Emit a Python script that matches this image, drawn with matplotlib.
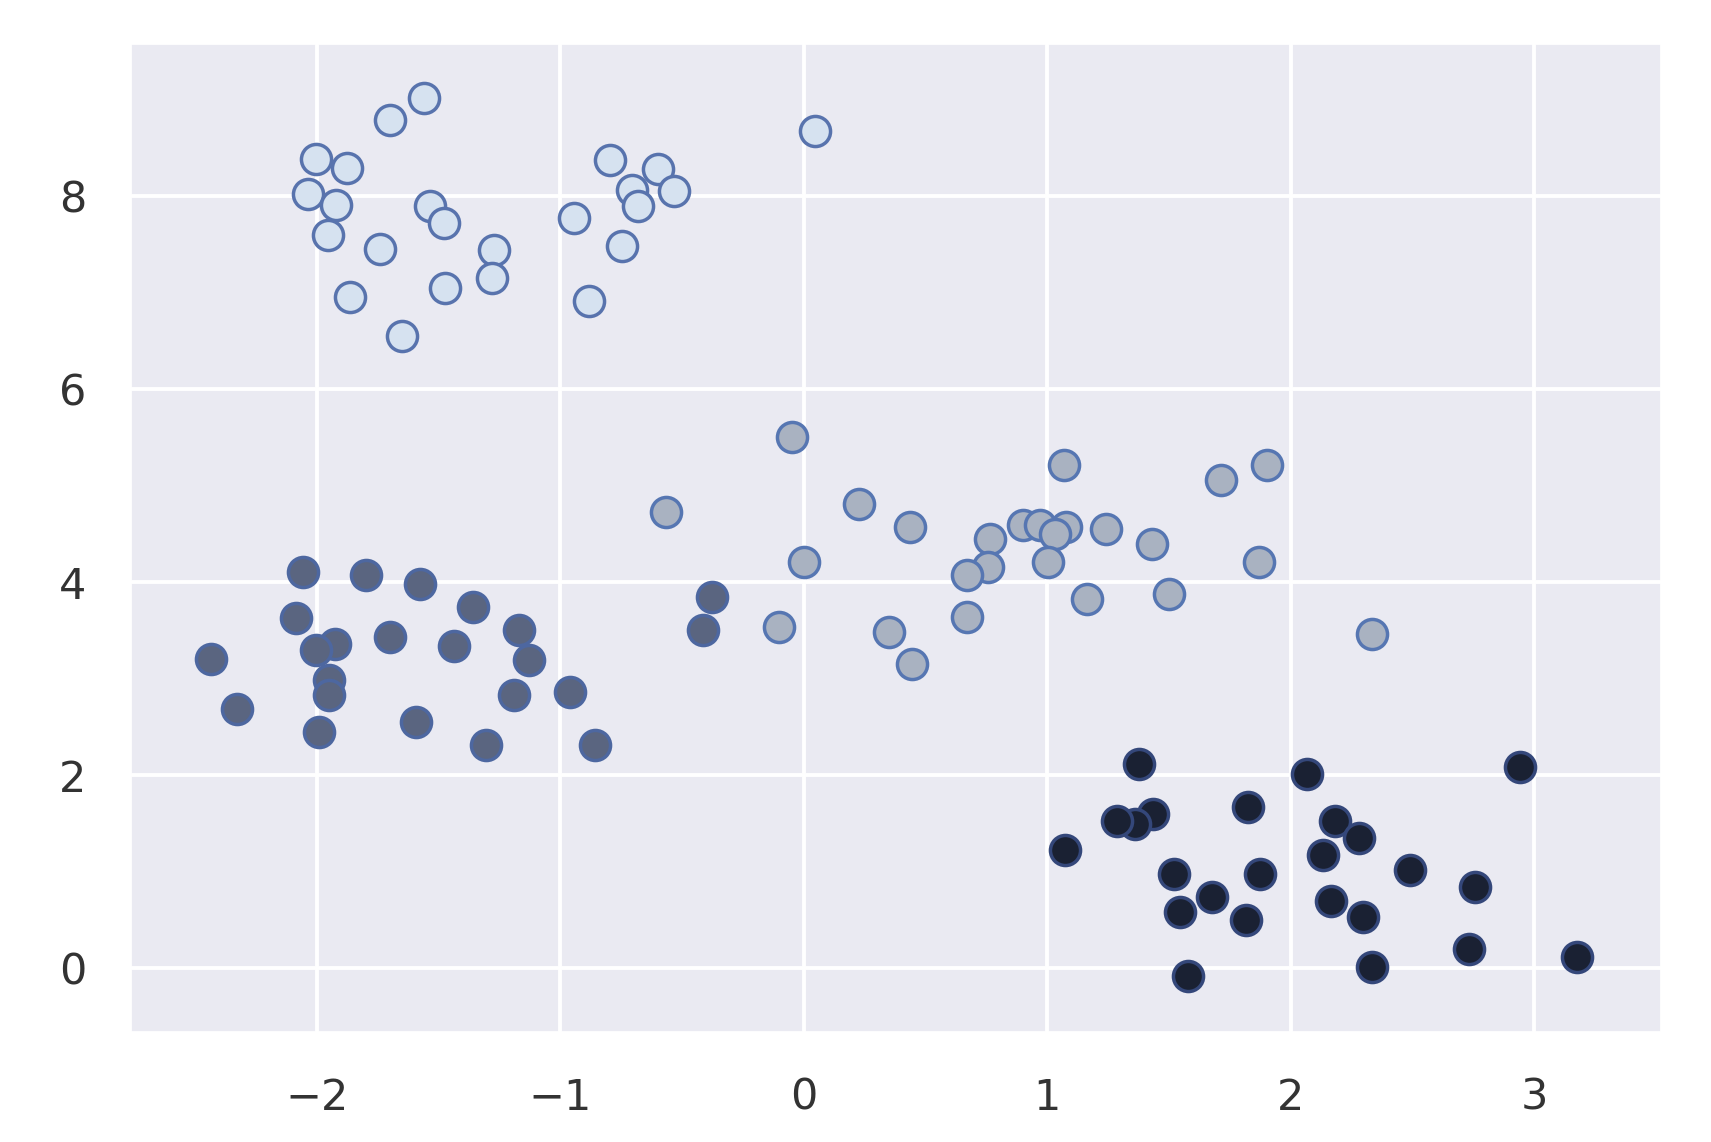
import numpy as np
import matplotlib.pyplot as plt
import seaborn as sns

sns.set_theme(style='darkgrid')

# cluster 0 (light, top left)
x0 = [-1.558, -1.700, -2.003, -1.877, -2.037, -1.922, -1.536, -1.476, -1.952, -1.738,
      -1.273, -1.278, -1.473, -1.862, -1.648, -0.944, -0.880, -0.794, -0.599, -0.704,
      -0.532, -0.682, -0.745, 0.048]
y0 = [9.019, 8.788, 8.387, 8.294, 8.028, 7.914, 7.896, 7.724, 7.603, 7.454,
      7.447, 7.153, 7.050, 6.953, 6.549, 7.775, 6.912, 8.373, 8.283, 8.069,
      8.052, 7.896, 7.482, 8.681]

# cluster 1 (mid grey, centre)
x1 = [-0.048, 1.067, 1.715, 1.901, 0.225, 0.436, 0.764, 0.902, 0.971, 1.075,
      1.032, 1.239, 1.430, 1.870, 0.003, 0.755, 0.669, 1.003, 1.162, 1.499,
      -0.100, 0.349, 0.669, 0.444, 2.334, -0.566]
y1 = [5.503, 5.209, 5.054, 5.209, 4.812, 4.570, 4.449, 4.587, 4.587, 4.570,
      4.501, 4.553, 4.397, 4.207, 4.207, 4.155, 4.069, 4.207, 3.827, 3.879,
      3.534, 3.482, 3.637, 3.153, 3.464, 4.730]

# cluster 2 (dark grey, bottom left)
x2 = [-2.056, -1.799, -1.575, -1.357, -2.085, -1.699, -1.924, -2.004, -1.434, -1.169,
      -1.129, -2.434, -1.949, -1.949, -2.328, -1.188, -0.960, -1.990, -1.593, -1.306,
      -0.857, -0.375, -0.413]
y2 = [4.104, 4.069, 3.976, 3.741, 3.630, 3.430, 3.361, 3.292, 3.333, 3.506,
      3.195, 3.205, 2.980, 2.830, 2.687, 2.825, 2.860, 2.445, 2.549, 2.307,
      2.307, 3.845, 3.499]

# cluster 3 (black, bottom right)
x3 = [1.376, 2.067, 2.940, 1.436, 1.362, 1.826, 2.181, 2.278, 2.132, 1.521,
      1.872, 2.490, 2.756, 1.678, 1.544, 1.816, 2.165, 2.295, 2.732, 2.332,
      3.174, 1.577, 1.073, 1.285]
y3 = [2.114, 2.010, 2.079, 1.597, 1.493, 1.672, 1.528, 1.348, 1.166, 0.976,
      0.976, 1.017, 0.838, 0.734, 0.579, 0.493, 0.693, 0.528, 0.200, 0.010,
      0.114, -0.086, 1.220, 1.527]

faces = ['#d6e2f0', '#a9b2c1', '#5a6580', '#1a2133']
edges = ['#5873ad', '#5676b2', '#4d67a0', '#34477a']

fig = plt.figure(figsize=(17.11, 11.42), dpi=100)
ax = fig.add_axes([0.0766, 0.0961, 0.8942, 0.8655])

for xs, ys, fc, ec in zip([x0, x1, x2, x3], [y0, y1, y2, y3], faces, edges):
    ax.scatter(xs, ys, s=470, c=fc, edgecolors=ec, linewidths=2.5, zorder=3)

ax.set_xlim(-2.762, 3.52)
ax.set_ylim(-0.667, 9.58)
ax.set_xticks([-2, -1, 0, 1, 2, 3])
ax.set_yticks([0, 2, 4, 6, 8])
ax.set_xticklabels(['\u22122', '\u22121', '0', '1', '2', '3'])
ax.tick_params(labelsize=31, colors='#333333', pad=26)
ax.grid(color='white', linewidth=2.8)
ax.set_facecolor('#eaeaf2')

plt.savefig('out.png', dpi=100)
